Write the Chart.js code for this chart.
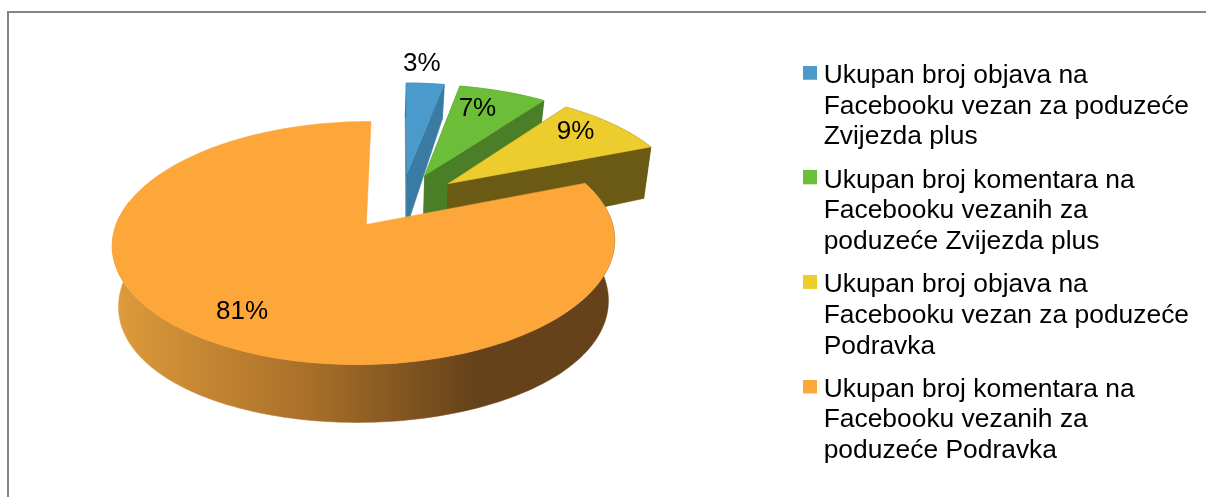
<!DOCTYPE html>
<html><head><meta charset="utf-8">
<style>
html,body{margin:0;padding:0;background:#fff;overflow:hidden}
#frame{position:absolute;left:7px;top:11px;right:0;bottom:0;border-left:2px solid #858585;border-top:2px solid #858585}
canvas{position:absolute;left:0;top:0}
</style>
<script src="https://cdn.jsdelivr.net/npm/chart.js@4"></script>
</head><body>
<div id="frame"></div>
<canvas id="c" width="1206" height="497"></canvas>
<script>
const categories = [
  ["Ukupan broj objava na","Facebooku vezan za poduzeće","Zvijezda plus"],
  ["Ukupan broj komentara na","Facebooku vezanih za","poduzeće Zvijezda plus"],
  ["Ukupan broj objava na","Facebooku vezan za poduzeće","Podravka"],
  ["Ukupan broj komentara na","Facebooku vezanih za","poduzeće Podravka"]
];
const percentages = [3, 7, 9, 81];
const topColors = ["#4A9BCB", "#6CBD37", "#EDCD2E", "#FDA63A"];
const wallColors = ["#3A7BA3", "#4A7F28", "#6A5A14", "#66421A"];
const labelRadius = [1.25, 0.75, 0.8, 0.79];
const labelAlong = [0.34, 0.38, 0.4, 0.497];

const FONT = '"Liberation Sans", Arial, sans-serif';
// camera for the tilted disc
const view = {dx:3, dy:-73, rx:240, ry:111.4, persp:0.148, skew:0.008,
              depthBase:58.5, depthSlope:9.2, depthCurve:-8.1, shrink:0.975, shrinkX:364};

function project(u, v, arc){
  const f = 1/(1 - view.persp*v + view.skew*u);
  return {x: arc.x + view.dx + view.rx*u*f, y: arc.y + view.dy + view.ry*v*f, v};
}
function lower(p){
  return {x: view.shrinkX + (p.x-view.shrinkX)*view.shrink,
          y: p.y + view.depthBase + view.depthSlope*p.v + view.depthCurve*p.v*p.v};
}
function sliceGeom(arc){
  const a0=arc.startAngle, a1=arc.endAngle, mid=(a0+a1)/2;
  const e=(arc.options.offset||0)/arc.outerRadius;
  const ou=Math.cos(mid)*e, ov=Math.sin(mid)*e;
  const rim=[], n=Math.max(8,Math.ceil((a1-a0)*40));
  for(let i=0;i<=n;i++){
    const a=a0+(a1-a0)*i/n;
    rim.push(project(ou+Math.cos(a),ov+Math.sin(a),arc));
  }
  return {apex:project(ou,ov,arc), rim, ou, ov};
}
function poly(ctx, pts, fill){
  ctx.beginPath();
  pts.forEach((p,i)=> i?ctx.lineTo(p.x,p.y):ctx.moveTo(p.x,p.y));
  ctx.closePath();
  ctx.fillStyle=fill; ctx.strokeStyle=fill; ctx.lineWidth=0.5;
  ctx.fill(); ctx.stroke();
}
const disc3d = {
  id:'disc3d',
  beforeDatasetDraw(chart, args){
    const ctx=chart.ctx, arcs=chart.getDatasetMeta(args.index).data;
    arcs.forEach((arc,i)=>{
      const g=sliceGeom(arc);
      const isLast=i===arcs.length-1;
      let wall=wallColors[i];
      if(isLast){
        wall=ctx.createLinearGradient(117,0,600,0);
        wall.addColorStop(0,'#DE9A3B');
        wall.addColorStop(0.4,'#A86F29');
        wall.addColorStop(0.74,wallColors[i]);
        wall.addColorStop(1,wallColors[i]);
      }
      ctx.save();
      // the big slice only shows its front wall
      const rimFront=isLast?g.rim.filter(p=>p.v>0):g.rim;
      const bottom=rimFront.map(lower), apexB=lower(g.apex);
      poly(ctx,[...rimFront,...bottom.slice().reverse()],wall);
      if(!isLast){
        poly(ctx,[g.apex,rimFront[0],bottom[0],apexB],wall);
        const l=rimFront.length-1;
        poly(ctx,[g.apex,rimFront[l],bottom[l],apexB],wall);
      }
      poly(ctx,[g.apex,...g.rim],arc.options.backgroundColor);
      ctx.restore();
    });
    return false;
  },
  afterDatasetsDraw(chart){
    const ctx=chart.ctx, arcs=chart.getDatasetMeta(0).data;
    ctx.save();
    ctx.font='26px '+FONT; ctx.fillStyle='#000';
    ctx.textAlign='center'; ctx.textBaseline='middle';
    arcs.forEach((arc,i)=>{
      const g=sliceGeom(arc);
      const a=arc.startAngle+(arc.endAngle-arc.startAngle)*labelAlong[i];
      const p=project(g.ou+Math.cos(a)*labelRadius[i],g.ov+Math.sin(a)*labelRadius[i],arc);
      ctx.fillText(percentages[i]+'%',p.x,p.y);
    });
    ctx.restore();
  }
};
function swatch(color){
  const s=document.createElement('canvas'); s.width=14; s.height=20;
  const c=s.getContext('2d'); c.fillStyle=color; c.fillRect(0,0,14,14);
  return s;
}
new Chart(document.getElementById('c'),{
  type:'pie',
  data:{labels:categories,datasets:[{data:percentages,backgroundColor:topColors,borderWidth:0,offset:50}]},
  options:{
    responsive:false,animation:false,
    layout:{padding:{top:50,right:7}},
    plugins:{
      tooltip:{enabled:false},
      legend:{
        position:'right',align:'start',
        labels:{
          color:'#000',padding:12.5,boxWidth:14,boxHeight:14,usePointStyle:true,pointStyleWidth:1,
          font:{family:FONT,size:26.4,lineHeight:30.7/26.4},
          generateLabels(){
            return categories.map((t,i)=>({text:t,fillStyle:topColors[i],strokeStyle:topColors[i],lineWidth:0,pointStyle:swatch(topColors[i]),hidden:false,index:i}));
          }
        }
      }
    }
  },
  plugins:[disc3d]
});
</script>
</body></html>
